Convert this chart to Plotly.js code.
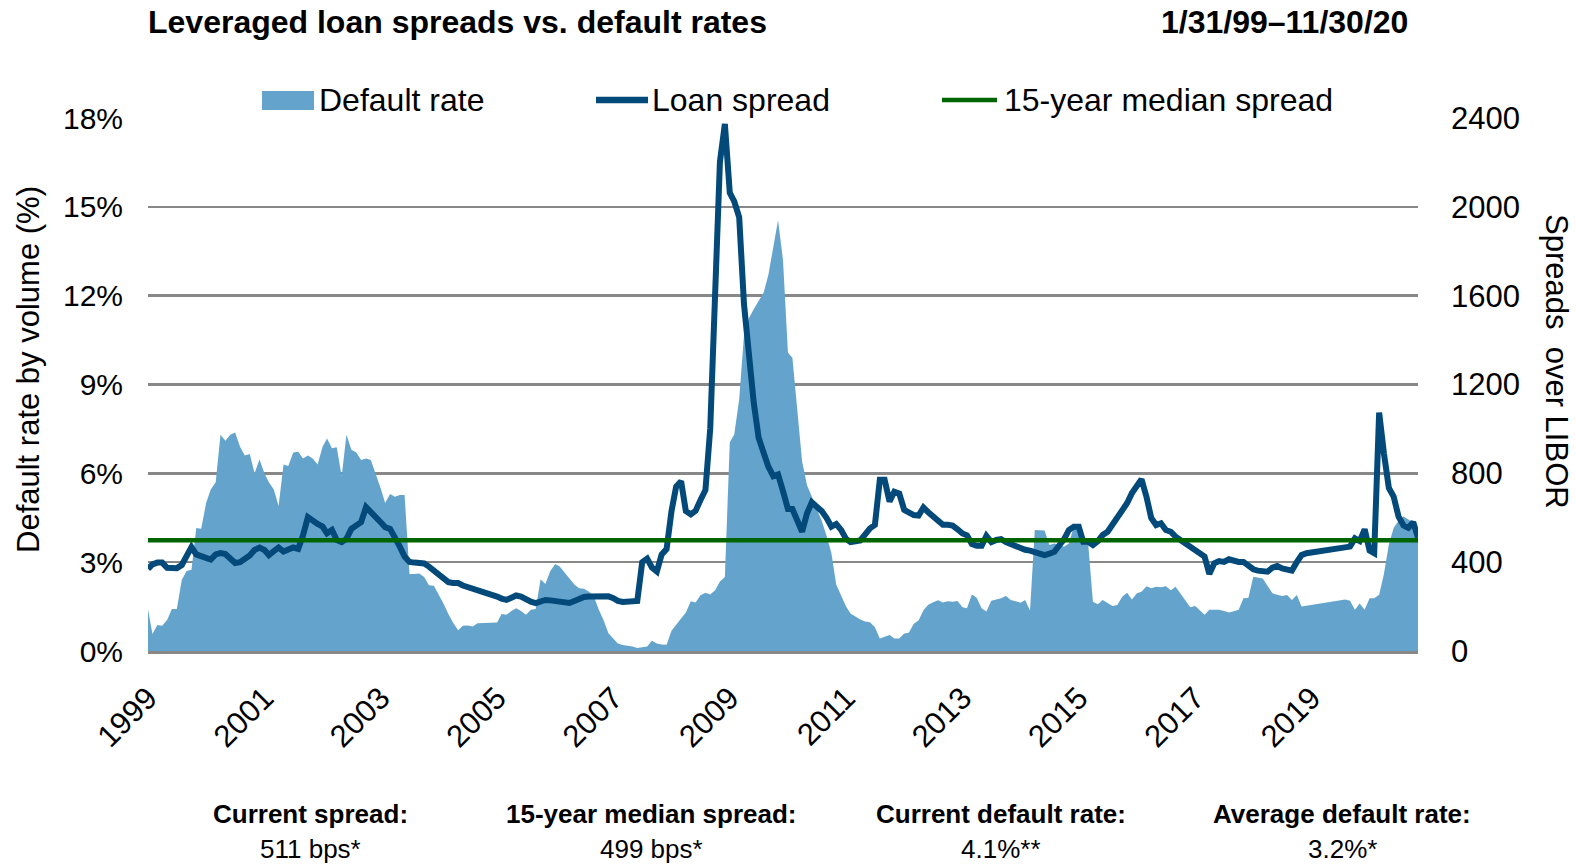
<!DOCTYPE html>
<html>
<head>
<meta charset="utf-8">
<script src="https://cdn.plot.ly/plotly-3.0.1.min.js"></script>
<style>
  html, body { margin: 0; padding: 0; background: #ffffff; }
  #chart { width: 1576px; height: 864px; }
</style>
</head>
<body>
<div id="chart"></div>
<script>
// ---------------- DATA (monthly, month-end, Jan 1999 .. Nov 2020) ----------------
const startYear = 1999;   // first month: January 1999
const startMonth = 0;

// Default rate by volume (%), one value per month
const defaultRate = [
  1.4, 0.57, 0.88, 0.85, 1.05, 1.42, 1.42, 2.4, 2.7, 2.74, 4.15, 4.13,          // 1999
  5.0, 5.45, 5.7, 7.3, 7.1, 7.3, 7.38, 6.9, 6.6, 6.65, 6.0, 6.47,               // 2000
  6.0, 5.7, 5.45, 4.9, 6.3, 6.25, 6.7, 6.73, 6.5, 6.6, 6.5, 6.3,                // 2001
  6.9, 7.18, 6.85, 6.88, 5.9, 7.3, 6.8, 6.7, 6.45, 6.5, 6.45, 6.0,              // 2002
  5.5, 5.0, 5.3, 5.21, 5.27, 5.27, 2.6, 2.6, 2.62, 2.5, 2.22, 2.2,              // 2003
  1.9, 1.6, 1.25, 0.95, 0.7, 0.85, 0.86, 0.83, 0.94, 0.94, 0.94, 0.95,          // 2004
  0.96, 1.25, 1.22, 1.35, 1.44, 1.35, 1.22, 1.39, 1.42, 2.42, 2.26, 2.7,        // 2005
  2.94, 2.85, 2.65, 2.45, 2.25, 2.12, 2.1, 2.0, 1.85, 1.4, 1.05, 0.6,           // 2006
  0.42, 0.25, 0.2, 0.18, 0.15, 0.1, 0.12, 0.15, 0.35, 0.25, 0.22, 0.21,         // 2007
  0.68, 0.9, 1.1, 1.3, 1.68, 1.64, 1.88, 1.97, 1.91, 2.05, 2.35, 2.5,           // 2008
  7.05, 7.31, 8.5, 10.66, 11.24, 11.54, 11.8, 12.1, 12.7, 13.7, 14.55, 13.2,    // 2009
  10.07, 9.9, 8.2, 6.4, 5.6, 5.2, 4.85, 4.4, 3.9, 3.3, 2.25, 1.85,              // 2010
  1.5, 1.27, 1.15, 1.06, 1.0, 0.97, 0.8, 0.42, 0.48, 0.54, 0.42, 0.42,          // 2011
  0.59, 0.62, 0.92, 1.03, 1.38, 1.56, 1.65, 1.71, 1.64, 1.68, 1.66, 1.69,       // 2012
  1.48, 1.44, 1.91, 1.8, 1.44, 1.33, 1.7, 1.75, 1.78, 1.86, 1.72, 1.68,         // 2013
  1.63, 1.72, 1.37, 4.09, 4.08, 4.07, 3.58, 3.63, 3.58, 3.52, 3.63, 4.2,        // 2014
  4.2, 3.9, 3.63, 1.66, 1.58, 1.72, 1.62, 1.52, 1.55, 1.83, 1.97, 1.74,         // 2015
  1.95, 2.0, 2.19, 2.12, 2.17, 2.15, 2.19, 2.05, 2.17, 1.95, 1.7, 1.48,         // 2016
  1.52, 1.38, 1.22, 1.39, 1.39, 1.39, 1.35, 1.3, 1.34, 1.39, 1.78, 1.8,         // 2017
  2.51, 2.48, 2.45, 2.2, 1.95, 1.9, 1.86, 1.89, 1.72, 1.89, 1.5, null,          // 2018
  null, null, null, null, null, null, null, 1.74, 1.70, 1.39, 1.6, 1.39,        // 2019
  1.78, 1.78, 1.9, 2.6, 3.6, 4.15, 4.4, 4.54, 4.43, 4.34, 4.1                   // 2020
];

// Loan spread over LIBOR (bps), one value per month
const loanSpread = [
  370, 390, 398, 398, 375, 373, 373, 387, 430, 468, 435, 425,        // 1999
  415, 412, 435, 441, 437, 415, 396, 400, 415, 430, 455, 466,        // 2000
  455, 432, 450, 466, 448, 460, 466, 460, 520, 603, 585, 572,        // 2001
  560, 530, 545, 500, 490, 505, 550, 565, 580, 648, 622, 603,        // 2002
  580, 558, 550, 515, 470, 425, 401, 398, 396, 394, 380, 360,        // 2003
  340, 325, 310, 306, 306, 295, 288, 283, 279, 270, 262, 252,        // 2004
  245, 236, 230, 240, 250, 245, 232, 222, 216, 222, 230, 228,        // 2005
  224, 220, 216, 216, 225, 236, 243, 245, 246, 246, 248, 246,        // 2006
  238, 226, 221, 221, 221, 225, 400, 416, 376, 358, 435, 459,        // 2007
  630, 740, 764, 630, 615, 631, 680, 725, 1000, 1577, 2203, 2373,    // 2008
  2063, 2024, 1953, 1562, 1320, 1120, 960, 885, 830, 787, 795, 720,  // 2009
  639, 639, 590, 537, 620, 670, 650, 630, 600, 560, 572, 545,        // 2010
  505, 490, 494, 498, 525, 552, 568, 771, 771, 673, 717, 709,        // 2011
  635, 625, 612, 610, 646, 625, 607, 590, 568, 568, 565, 548,        // 2012
  529, 521, 482, 474, 474, 518, 490, 500, 504, 490, 482, 468,        // 2013
  460, 456, 452, 445, 436, 432, 438, 447, 475, 504, 545, 560,        // 2014
  560, 492, 492, 477, 495, 522, 537, 570, 605, 635, 665, 711,        // 2015
  745, 773, 695, 599, 567, 575, 545, 537, 515, 500, 480, 464,        // 2016
  450, 440, 425, 347, 395, 405, 401, 413, 405, 401, 401, 385,        // 2017
  368, 362, 357, 357, 375, 383, 372, 365, 362, 400, 432, 440,        // 2018
  null, null, null, null, null, null, null, null, 470, 507, 495, 548,// 2019
  452, 440, 1073, 890, 734, 695, 605, 565, 555, 580, 511             // 2020
];

const medianSpread = 499;               // 15-year median spread (bps)
const tickYears = [1999, 2001, 2003, 2005, 2007, 2009, 2011, 2013, 2015, 2017, 2019];
const leftTicks = [0, 3, 6, 9, 12, 15, 18];
const rightTicks = [0, 400, 800, 1200, 1600, 2000, 2400];

const seriesNames = ['Default rate', 'Loan spread', '15-year median spread'];
const statLabels = ['Current spread:', '15-year median spread:', 'Current default rate:', 'Average default rate:'];
const statValues = ['511 bps*', '499 bps*', '4.1%**', '3.2%*'];
const titleText = 'Leveraged loan spreads vs. default rates';
const dateRangeText = '1/31/99\u201311/30/20';

// ---------------- HELPERS ----------------
function monthEnd(i) {
  const d = new Date(Date.UTC(startYear, startMonth + i + 1, 0));
  return d.toISOString().slice(0, 10);
}
const nMonths = Math.max(defaultRate.length, loanSpread.length);
const dates = [];
for (let i = 0; i < nMonths; i++) dates.push(monthEnd(i));
const firstDate = dates[0];
const lastDate = dates[dates.length - 1];

// ---------------- STYLE ----------------
const FONT = "'Liberation Sans', Arial, Helvetica, sans-serif";
const AREA = '#64A4CC';
const SPREAD = '#03497A';
const MEDIAN = '#006400';
const GRID = '#888888';

const traces = [
  {
    name: seriesNames[0], type: 'scatter', mode: 'lines',
    x: dates, y: defaultRate, yaxis: 'y',
    line: { width: 0, color: AREA }, fill: 'tozeroy', fillcolor: AREA,
    connectgaps: true, hoverinfo: 'skip', showlegend: false
  },
  {
    name: seriesNames[1], type: 'scatter', mode: 'lines',
    x: dates, y: loanSpread, yaxis: 'y2',
    line: { width: 6, color: SPREAD }, connectgaps: true,
    hoverinfo: 'skip', showlegend: false
  },
  {
    name: seriesNames[2], type: 'scatter', mode: 'lines',
    x: [firstDate, lastDate], y: [medianSpread, medianSpread], yaxis: 'y2',
    line: { width: 4.5, color: MEDIAN },
    hoverinfo: 'skip', showlegend: false
  }
];

// paper-coordinate helpers (plot area: x 148..1418 px, y 118..651 px)
const PL = 148, PR = 1418, PT = 118, PB = 651;
const px = v => (v - PL) / (PR - PL);
const py = v => (PB - v) / (PB - PT);

const annotations = [
  { text: '<b>' + titleText + '</b>', x: px(146), y: py(22), xanchor: 'left', yanchor: 'middle',
    font: { size: 32, color: '#000' } },
  { text: '<b>' + dateRangeText + '</b>', x: px(1410), y: py(22), xanchor: 'right', yanchor: 'middle',
    font: { size: 32, color: '#000' } },
  { text: 'Default rate by volume (%)', x: px(28), y: py(370), textangle: -90,
    xanchor: 'center', yanchor: 'middle', font: { size: 31, color: '#000' } },
  { text: 'Spreads  over LIBOR', x: px(1557), y: py(362), textangle: 90,
    xanchor: 'center', yanchor: 'middle', font: { size: 31, color: '#000' } },
  // legend texts
  { text: seriesNames[0], x: px(317), y: py(100), xanchor: 'left', yanchor: 'middle', font: { size: 32, color: '#000' } },
  { text: seriesNames[1], x: px(650), y: py(100), xanchor: 'left', yanchor: 'middle', font: { size: 32, color: '#000' } },
  { text: seriesNames[2], x: px(1002), y: py(100), xanchor: 'left', yanchor: 'middle', font: { size: 32, color: '#000' } }
];
const statX = [310, 651, 1001, 1342];
statLabels.forEach((t, i) => {
  annotations.push({ text: '<b>' + t + '</b>', x: px(statX[i]), y: py(814), xanchor: 'center', yanchor: 'middle',
    font: { size: 26, color: '#000' } });
  annotations.push({ text: statValues[i], x: px(statX[i]), y: py(849), xanchor: 'center', yanchor: 'middle',
    font: { size: 26, color: '#000' } });
});
annotations.forEach(a => { a.xref = 'paper'; a.yref = 'paper'; a.showarrow = false; });

const shapes = [
  { type: 'rect', xref: 'paper', yref: 'paper', x0: px(262), x1: px(314), y0: py(110), y1: py(91),
    fillcolor: AREA, line: { width: 0 } },
  { type: 'line', xref: 'paper', yref: 'paper', x0: px(596), x1: px(648), y0: py(100), y1: py(100),
    line: { color: SPREAD, width: 6.5 } },
  { type: 'line', xref: 'paper', yref: 'paper', x0: px(942), x1: px(997), y0: py(100), y1: py(100),
    line: { color: MEDIAN, width: 4.5 } }
];

const layout = {
  width: 1576, height: 864,
  margin: { l: PL, r: 1576 - PR, t: PT, b: 864 - PB, pad: 0 },
  paper_bgcolor: '#ffffff', plot_bgcolor: '#ffffff',
  font: { family: FONT, color: '#000' },
  showlegend: false,
  xaxis: {
    type: 'date', range: [firstDate, lastDate],
    tickmode: 'array',
    tickvals: tickYears.map(y => y + '-01-31'),
    ticktext: tickYears.map(String),
    tickangle: -45, tickfont: { size: 31, color: '#000' },
    showgrid: false, zeroline: false,
    showline: true, linecolor: GRID, linewidth: 2.5,
    ticks: '', ticklabelstandoff: 14, fixedrange: true
  },
  yaxis: {
    range: [0, 18], tickmode: 'array', tickvals: leftTicks,
    ticktext: leftTicks.map(v => v + '%'),
    tickfont: { size: 30, color: '#000' },
    showgrid: true, gridcolor: GRID, gridwidth: 2.5,
    zeroline: false, showline: false, ticks: '', ticklabelstandoff: 24, fixedrange: true
  },
  yaxis2: {
    overlaying: 'y', side: 'right',
    range: [0, 2400], tickmode: 'array', tickvals: rightTicks,
    ticktext: rightTicks.map(String),
    tickfont: { size: 31, color: '#000' },
    showgrid: false, zeroline: false, showline: false, ticks: '', ticklabelstandoff: 32, fixedrange: true
  },
  annotations: annotations,
  shapes: shapes
};

Plotly.newPlot('chart', traces, layout, { staticPlot: true, displayModeBar: false });
</script>
</body>
</html>
